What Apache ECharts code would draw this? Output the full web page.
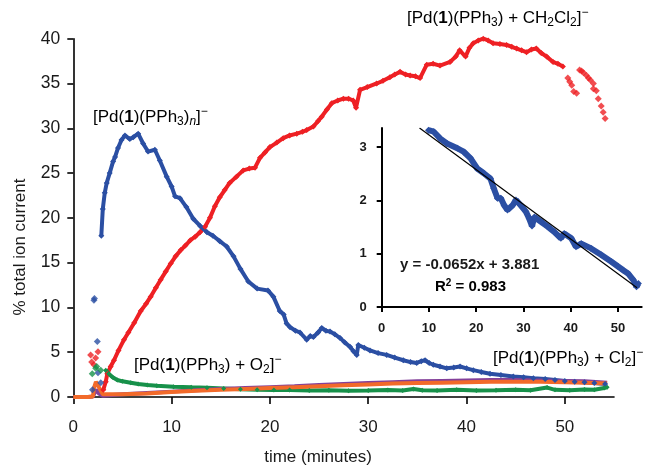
<!DOCTYPE html>
<html><head><meta charset="utf-8">
<script src="https://cdn.jsdelivr.net/npm/echarts@6/dist/echarts.min.js"></script>
<style>html,body{margin:0;padding:0;background:#fff}#c{width:654px;height:469px}</style>
</head><body><div id="c"></div><script>
// ---------- data ----------
const xTickValues = [0, 10, 20, 30, 40, 50];
const yTickValues = [0, 5, 10, 15, 20, 25, 30, 35, 40];
const insetXTicks = [0, 10, 20, 30, 40, 50];
const insetYTicks = [0, 1, 2, 3];

// [Pd(1)(PPh3)n]-  (blue)
const blueEarlyTime = [1.95, 2.1, 2.15, 2.44, 2.51, 2.79];
const blueEarlyPct  = [0.8, 10.8, 11.0, 6.2, 2.7, 1.6];
const blueTime = [2.85,3.0,3.2,3.4,3.7,4.05,4.25,4.55,4.9,5.25,5.75,6.1,6.6,7.1,7.6,8.3,8.8,9.5,10.0,10.35,10.85,11.5,12.2,12.9,13.6,14.2,14.9,15.6,16.3,17.0,17.8,18.7,19.8,20.35,21.0,21.4,21.7,22.05,22.6,23.06,23.74,24.1,24.42,24.9,25.27,25.7,26.11,26.6,27.13,27.6,28.14,28.5,28.83,28.99,29.6,30.18,31.0,31.88,32.7,33.57,34.3,34.93,35.4,35.78,36.2,36.62,37.3,37.99,38.7,39.34,40.0,40.69,41.5,42.39,43.5,44.76,45.8,46.8,48.0,49.0,50.0,51.0,52.0,53.0,54.1];
const bluePct  = [18.0,21.0,22.8,23.9,25.0,26.3,26.8,27.8,28.7,29.2,28.8,29.0,29.4,28.3,27.4,27.6,26.4,24.6,23.5,22.4,22.2,21.2,19.9,19.1,18.4,18.0,17.4,16.8,15.7,14.3,12.9,12.1,11.9,11.2,9.6,9.2,8.2,7.8,7.4,7.2,6.4,6.8,6.7,7.2,7.7,7.4,7.3,7.0,6.6,6.1,5.6,5.1,4.7,5.8,5.5,5.2,4.9,4.7,4.4,4.1,3.9,3.8,4.0,4.1,3.8,3.6,3.4,3.2,3.3,3.4,3.2,3.0,2.8,2.6,2.45,2.3,2.2,2.1,2.0,1.9,1.8,1.7,1.65,1.55,1.45];

// [Pd(1)(PPh3) + CH2Cl2]-  (red)
const redEarlyTime = [1.76, 1.87, 2.1, 2.27, 2.51];
const redEarlyPct  = [4.7, 3.9, 3.6, 4.35, 5.05];
const redTime = [3.05,3.3,3.46,3.8,4.14,4.6,5.16,5.6,6.2,6.86,7.4,7.87,8.4,8.89,9.4,9.91,10.4,10.93,11.4,11.9,12.4,12.89,13.4,13.9,14.4,14.9,15.4,15.9,16.6,17.28,17.9,18.48,18.99,19.5,20.0,20.7,21.35,22.0,22.73,23.3,23.74,24.42,24.9,25.27,25.8,26.29,26.9,27.47,28.0,28.47,28.76,29.17,29.9,30.86,31.5,32.2,32.7,33.24,33.8,34.26,34.8,35.27,35.95,36.6,37.3,38.32,38.9,39.3,39.9,40.3,40.68,41.2,41.7,42.2,42.7,43.4,44.07,44.6,45.1,45.6,46.1,46.6,47.1,47.6,48.15,48.8,49.3,49.8];
const redPct  = [0.8,1.7,2.6,3.4,4.1,5.2,6.4,7.2,8.3,9.6,10.4,11.2,12.2,13.1,14.0,14.9,15.7,16.4,16.9,17.5,17.9,18.4,19.0,20.0,21.3,22.3,23.1,23.9,24.6,25.3,25.5,25.6,26.7,27.3,27.9,28.4,28.9,29.2,29.4,29.6,29.8,30.2,30.8,31.3,32.1,32.8,33.1,33.3,33.3,33.1,32.3,34.3,34.6,35.0,35.3,35.7,36.0,36.3,36.0,35.9,35.8,35.6,37.1,37.2,37.0,37.4,38.0,38.7,38.0,39.0,39.5,39.8,40.0,39.8,39.5,39.4,39.3,39.1,38.9,38.7,38.5,38.8,38.9,38.4,38.0,37.4,37.2,36.9];
const redLateTime = [50.3,50.5,50.7,50.9,51.2,51.5,51.7,51.9,52.2,52.4,52.6,52.9,52.9,53.2,53.4,53.7,53.9,54.1];
const redLatePct  = [35.6,35.2,34.8,34.1,33.9,36.5,36.4,36.2,35.9,35.6,35.4,35.0,34.4,34.2,33.3,32.5,31.8,31.1];

// [Pd(1)(PPh3) + O2]-  (green)
const greenEarlyTime = [1.93, 2.28, 2.38, 2.79];
const greenEarlyPct  = [2.6, 3.2, 3.4, 3.0];
const greenTime = [3.3,3.6,4.0,4.48,5.0,5.84,6.6,7.53,8.5,10.2,12.0,13.6,15.3,17.0,18.7,20.4,22.0,24.0,26.0,28.0,30.0,32.0,33.5,34.6,35.5,37.0,39.0,41.0,43.0,45.0,46.5,48.2,49.0,50.5,52.0,53.0,54.0,54.3];
const greenPct  = [3.0,2.6,2.2,1.9,1.75,1.6,1.45,1.34,1.25,1.15,1.08,1.04,0.95,0.86,0.82,0.78,0.78,0.72,0.75,0.7,0.72,0.78,0.72,0.9,0.75,0.72,0.8,0.72,0.75,0.8,0.75,1.05,0.8,0.75,0.85,0.8,1.0,1.1];

// [Pd(1)(PPh3) + Cl2]-  (purple)
const purpleTime = [0,0.5,1.0,1.5,2.0,2.3,2.6,3.0,5.0,7.5,10,12.5,15,17.5,20,22.5,25,27.5,30,32.5,35,37.5,40,42.5,45,47.5,50,52,54.3];
const purplePct  = [0,0,0,0,0.05,0.8,0.4,0.15,0.3,0.45,0.6,0.75,0.9,1.0,1.1,1.2,1.35,1.45,1.55,1.65,1.75,1.8,1.85,1.9,1.9,1.85,1.8,1.75,1.6];

// orange series
const orangeTime = [0,0.5,1.0,1.5,2.0,2.1,2.3,2.5,3.0,5.0,7.5,10,12.5,15,17.5,20,22.5,25,27.5,30,32.5,35,37.5,40,42.5,45,47.5,50,52,54.3];
const orangePct  = [0,0,0,0,0.05,1.0,1.7,1.3,0.3,0.3,0.4,0.55,0.7,0.8,0.9,1.0,1.1,1.2,1.3,1.4,1.5,1.55,1.6,1.65,1.7,1.7,1.7,1.65,1.6,1.5];

// inset: ln(% [Pd(1)(PPh3)n]-) vs time
const insetTime = [9.9,11.0,12.4,13.8,16.0,17.4,18.8,20.2,21.6,23.0,23.7,24.5,25.2,25.9,26.6,27.7,28.4,29.4,30.5,31.2,31.8,32.3,33.7,35.1,36.5,37.9,38.6,40.1,41.1,42.2,44.3,46.4,48.6,50.0,51.1,52.1,53.2,53.9,54.3];
const insetLn   = [3.32,3.29,3.16,3.07,2.98,2.91,2.79,2.60,2.51,2.41,2.23,2.04,2.04,1.91,1.82,1.91,2.01,1.91,1.79,1.66,1.52,1.69,1.60,1.51,1.41,1.29,1.38,1.29,1.13,1.19,1.10,0.98,0.85,0.76,0.69,0.63,0.51,0.38,0.44];
const fitTime = [8, 54];
const fitLn   = [3.359, 0.360];

// ---------- helpers ----------
const zip = (a, b) => a.map((v, i) => [v, b[i]]);
const F = 'Liberation Sans, Arial, sans-serif';
const TXT = '#1a1a1a';
const BLUE = '#2b4fa3', RED = '#ee2024', GREEN = '#17914a', PURPLE = '#83409a', ORANGE = '#f26a2a';

function lineSeries(data, color, width, sym, xi) {
  return { type: 'line', data, xAxisIndex: xi || 0, yAxisIndex: xi || 0,
    lineStyle: { color, width }, itemStyle: { color },
    symbol: 'diamond', symbolSize: sym, showSymbol: sym > 0, silent: true, z: 2 };
}
function dotSeries(data, color, size, xi) {
  return { type: 'scatter', data, xAxisIndex: xi || 0, yAxisIndex: xi || 0,
    symbol: 'diamond', symbolSize: size, itemStyle: { color }, silent: true, z: 2 };
}

const richBase = {
  n: { fontSize: 17, fontFamily: F, color: TXT, lineHeight: 22, verticalAlign: 'middle' },
  b: { fontSize: 17, fontFamily: F, color: TXT, lineHeight: 22, verticalAlign: 'middle', fontWeight: 'bold' },
  s: { fontSize: 12, fontFamily: F, color: TXT, lineHeight: 13, verticalAlign: 'bottom' },
  si: { fontSize: 12, fontFamily: F, color: TXT, lineHeight: 13, verticalAlign: 'bottom', fontStyle: 'italic' },
  p: { fontSize: 12, fontFamily: F, color: TXT, lineHeight: 12, verticalAlign: 'top' }
};
function label(x, y, text) {
  return { type: 'text', x, y, silent: true, z: 10,
    style: { text, rich: richBase, verticalAlign: 'middle', align: 'left' } };
}

const chart = echarts.init(document.getElementById('c'), null, { renderer: 'canvas' });
const axisBlack = { color: '#000', width: 1.6 };

chart.setOption({
  animation: false,
  backgroundColor: '#fff',
  grid: [
    { left: 73.3, top: 38.7, width: 540.7, height: 358.3 },
    { left: 381.7, top: 128, width: 260, height: 179 }
  ],
  xAxis: [
    { type: 'value', gridIndex: 0, min: 0, max: 55, interval: 10,
      axisLine: { show: true, onZero: false, lineStyle: axisBlack },
      axisTick: { show: true, length: 7, customValues: xTickValues, lineStyle: axisBlack },
      axisLabel: { customValues: xTickValues, margin: 22, fontSize: 17, fontFamily: F, color: TXT },
      splitLine: { show: false } },
    { type: 'value', gridIndex: 1, min: 0, max: 55, interval: 10,
      axisLine: { show: true, onZero: false, lineStyle: { color: '#000', width: 2 } },
      axisTick: { show: true, length: 5, customValues: insetXTicks, lineStyle: { color: '#000', width: 2 } },
      axisLabel: { customValues: insetXTicks, margin: 15, fontSize: 13, fontWeight: 'bold', fontFamily: F, color: TXT },
      splitLine: { show: false } }
  ],
  yAxis: [
    { type: 'value', gridIndex: 0, min: 0, max: 40, interval: 5,
      axisLine: { show: true, onZero: false, lineStyle: axisBlack },
      axisTick: { show: true, length: 6, customValues: yTickValues, lineStyle: axisBlack },
      axisLabel: { customValues: yTickValues, margin: 13, fontSize: 17.5, fontFamily: F, color: TXT },
      splitLine: { show: false } },
    { type: 'value', gridIndex: 1, min: 0, max: 3.36, interval: 1,
      axisLine: { show: true, onZero: false, lineStyle: { color: '#000', width: 2 } },
      axisTick: { show: true, length: 5, customValues: insetYTicks, lineStyle: { color: '#000', width: 2 } },
      axisLabel: { customValues: insetYTicks, margin: 15, fontSize: 13, fontWeight: 'bold', fontFamily: F, color: TXT },
      splitLine: { show: false } }
  ],
  series: [
    lineSeries(zip(redTime, redPct), RED, 4, 6),
    dotSeries(zip(redEarlyTime, redEarlyPct), RED, 7),
    dotSeries(zip(redLateTime, redLatePct), RED, 7),
    lineSeries(zip(blueTime, bluePct), BLUE, 4, 6),
    dotSeries(zip(blueEarlyTime, blueEarlyPct), BLUE, 7),
    lineSeries(zip(greenTime, greenPct), GREEN, 4, 5),
    dotSeries(zip(greenEarlyTime, greenEarlyPct), GREEN, 7),
    lineSeries(zip(purpleTime, purplePct), PURPLE, 4, 0),
    lineSeries(zip(orangeTime, orangePct), ORANGE, 4, 0),
    lineSeries(zip(insetTime, insetLn), BLUE, 6, 7, 1),
    { type: 'line', data: zip(fitTime, fitLn), xAxisIndex: 1, yAxisIndex: 1,
      lineStyle: { color: '#000', width: 1.2 }, showSymbol: false, silent: true, z: 5 }
  ],
  graphic: [
    { type: 'text', x: 20.5, y: 247, rotation: Math.PI / 2, silent: true,
      style: { text: '% total ion current', fontSize: 17, fontFamily: F, fill: TXT, align: 'center', verticalAlign: 'middle' } },
    { type: 'text', x: 318, y: 457, silent: true,
      style: { text: 'time (minutes)', fontSize: 17, fontFamily: F, fill: TXT, align: 'center', verticalAlign: 'middle' } },
    label(93, 117, '{n|[Pd(}{b|1}{n|)(PPh}{s|3}{n|)}{si|n}{n|]}{p|−}'),
    label(407, 18, '{n|[Pd(}{b|1}{n|)(PPh}{s|3}{n|) + CH}{s|2}{n|Cl}{s|2}{n|]}{p|−}'),
    label(134, 365, '{n|[Pd(}{b|1}{n|)(PPh}{s|3}{n|) + O}{s|2}{n|]}{p|−}'),
    label(493, 358, '{n|[Pd(}{b|1}{n|)(PPh}{s|3}{n|) + Cl}{s|2}{n|]}{p|−}'),
    { type: 'text', x: 400, y: 265, silent: true, z: 10,
      style: { text: 'y = -0.0652x + 3.881', fontSize: 15, fontWeight: 'bold', fontFamily: F, fill: TXT, verticalAlign: 'middle' } },
    { type: 'text', x: 435, y: 287, silent: true, z: 10,
      style: { text: '{r|R}{p|2}{r| = 0.983}', verticalAlign: 'middle',
        rich: { r: { fontSize: 15, fontWeight: 'bold', fontFamily: F, color: TXT, lineHeight: 18, verticalAlign: 'middle' },
                p: { fontSize: 10, fontWeight: 'bold', fontFamily: F, color: TXT, lineHeight: 10, verticalAlign: 'top' } } } }
  ]
});
</script></body></html>
